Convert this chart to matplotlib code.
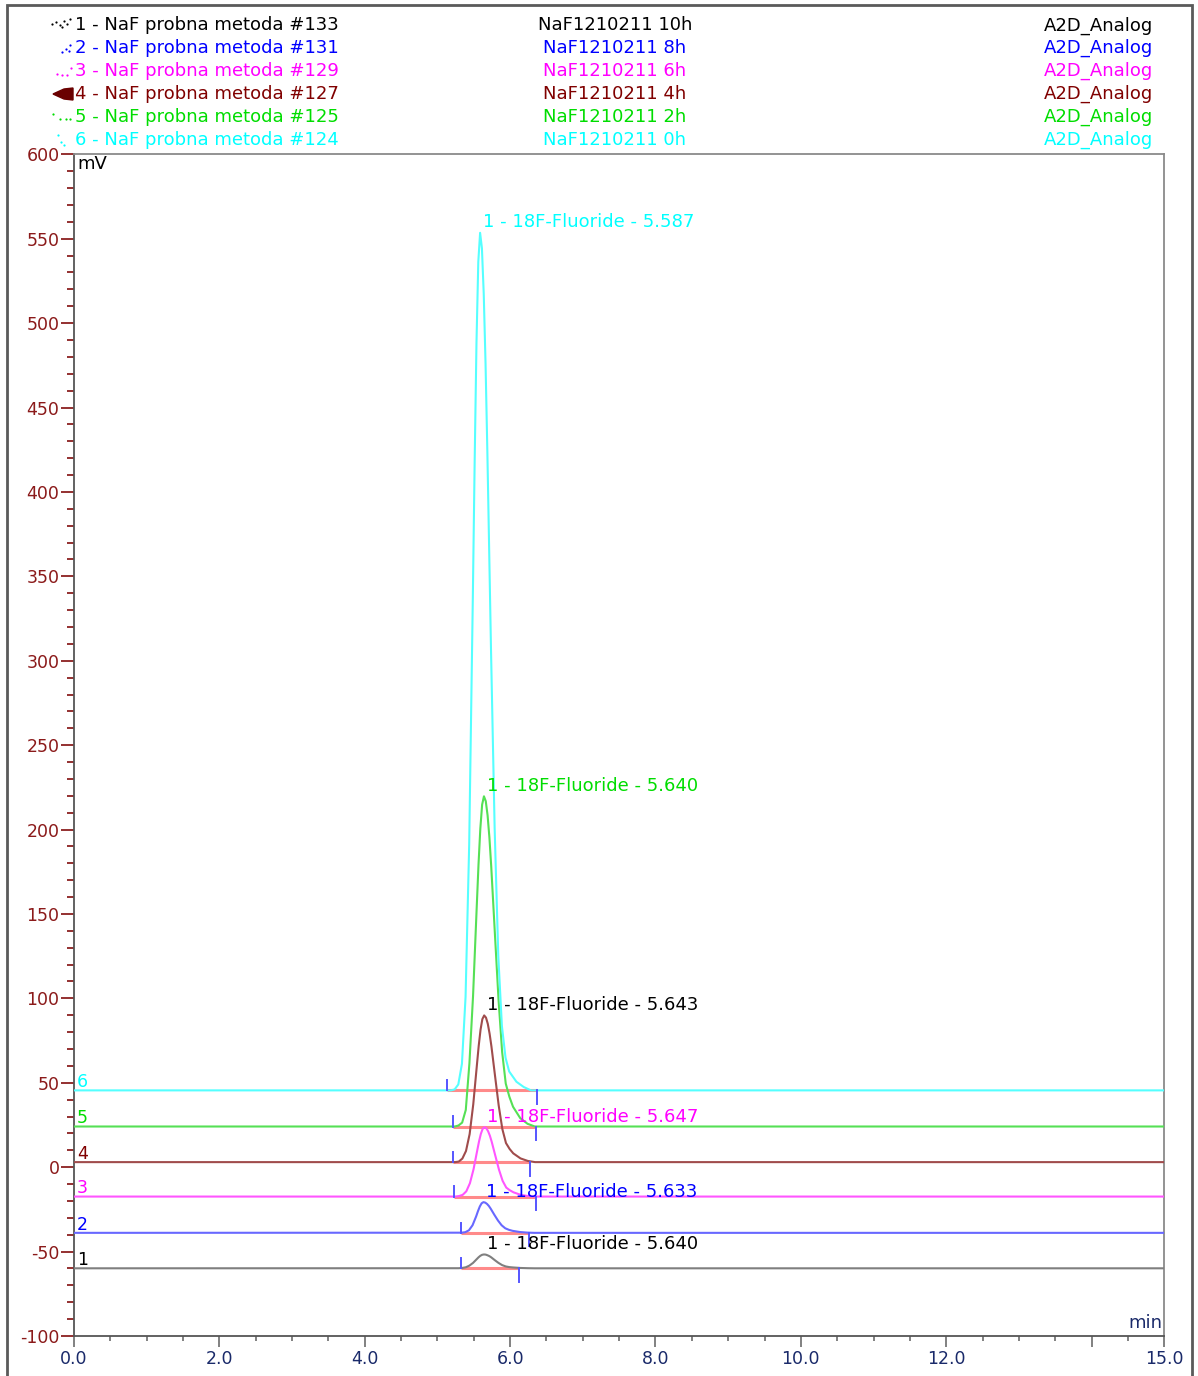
import matplotlib
matplotlib.use("Agg")
import matplotlib.pyplot as plt
from matplotlib.ticker import FixedLocator, FixedFormatter, MultipleLocator
from matplotlib.patches import Rectangle, Polygon

plt.rcParams["font.family"] = ["DejaVu Sans"]
plt.rcParams["axes.unicode_minus"] = False

W, H = 1198, 1376

# ---- run table ----------------------------------------------------------
run_names = ["1 - NaF probna metoda #133", "2 - NaF probna metoda #131",
             "3 - NaF probna metoda #129", "4 - NaF probna metoda #127",
             "5 - NaF probna metoda #125", "6 - NaF probna metoda #124"]
sample_names = ["NaF1210211 10h", "NaF1210211 8h", "NaF1210211 6h",
                "NaF1210211 4h", "NaF1210211 2h", "NaF1210211 0h"]
detectors = ["A2D_Analog"] * 6
run_colors = ["#000000", "#0000ff", "#ff00ff", "#800000", "#00dd00", "#00ffff"]
line_colors = ["#7f7f7f", "#6868ff", "#ff55ff", "#a04c4c", "#55e055", "#55ffff"]
label_colors = ["#000000", "#0000ff", "#ff00ff", "#000000", "#00dd00", "#00ffff"]

# ---- chromatogram traces (time in min, signal in mV) -------------------
t1 = [0.0, 5.290, 5.340, 5.390, 5.440, 5.490, 5.540, 5.565, 5.590, 5.615, 5.640, 5.665,
      5.690, 5.715, 5.740, 5.790, 5.840, 5.890, 5.940, 5.990, 6.040, 6.140, 6.240, 6.340, 15.0]
mv1 = [-59.9, -59.85, -59.7, -59.3, -58.3, -56.7, -54.5, -53.4, -52.5, -51.9, -51.7, -51.8,
       -52.2, -52.7, -53.4, -55.1, -56.7, -58.0, -58.8, -59.2, -59.4, -59.7, -59.83, -59.9, -59.9]

t2 = [0.0, 5.333, 5.383, 5.433, 5.483, 5.533, 5.558, 5.583, 5.608, 5.633, 5.658, 5.683,
      5.708, 5.733, 5.783, 5.833, 5.883, 5.933, 5.983, 6.033, 6.133, 6.233, 6.333, 15.0]
mv2 = [-38.9, -38.8, -38.5, -37.4, -34.4, -29.1, -26.0, -23.3, -21.4, -20.7, -21.0, -21.8,
       -23.0, -24.6, -28.2, -31.6, -34.4, -36.2, -37.1, -37.7, -38.4, -38.75, -38.9, -38.9]

t3 = [0.0, 5.247, 5.297, 5.347, 5.397, 5.447, 5.497, 5.547, 5.572, 5.597, 5.622, 5.647, 5.672,
      5.697, 5.722, 5.747, 5.797, 5.847, 5.897, 5.947, 5.997, 6.047, 6.147, 6.247, 6.347, 15.0]
mv3 = [-17.4, -17.4, -17.1, -16.4, -14.3, -9.5, -1.2, 9.8, 15.2, 19.7, 22.7, 23.7, 23.1,
       21.3, 18.6, 15.0, 6.7, -1.5, -8.1, -12.1, -13.7, -14.9, -16.4, -17.1, -17.4, -17.4]

t4 = [0.0, 5.243, 5.293, 5.343, 5.393, 5.443, 5.493, 5.543, 5.568, 5.593, 5.618, 5.643, 5.668,
      5.693, 5.718, 5.743, 5.793, 5.843, 5.893, 5.943, 5.993, 6.043, 6.143, 6.243, 6.343, 15.0]
mv4 = [3.0, 3.0, 3.3, 5.1, 9.6, 19.6, 37.3, 60.5, 71.9, 81.4, 87.7, 89.9, 88.6,
       84.9, 79.0, 71.5, 53.9, 36.5, 22.6, 14.3, 10.8, 8.2, 5.2, 3.7, 3.0, 3.0]

t5 = [0.0, 5.240, 5.290, 5.340, 5.390, 5.440, 5.490, 5.540, 5.565, 5.590, 5.615, 5.640, 5.665,
      5.690, 5.715, 5.740, 5.790, 5.840, 5.890, 5.940, 5.990, 6.040, 6.140, 6.240, 6.340, 15.0]
mv5 = [24.1, 24.1, 24.7, 26.4, 33.9, 61.5, 101.4, 153.6, 179.2, 200.5, 214.8, 219.7, 216.8,
       208.4, 195.3, 178.2, 138.7, 99.6, 68.3, 49.5, 41.7, 35.8, 29.0, 25.7, 24.1, 24.1]

t6 = [0.0, 5.187, 5.237, 5.287, 5.337, 5.387, 5.437, 5.487, 5.512, 5.537, 5.562, 5.587, 5.612,
      5.637, 5.662, 5.687, 5.737, 5.787, 5.837, 5.887, 5.937, 5.987, 6.087, 6.187, 6.287, 15.0]
mv6 = [45.5, 45.5, 46.1, 49.0, 61.2, 100.9, 191.3, 337.6, 417.4, 488.0, 536.2, 553.5, 544.4,
       517.4, 475.8, 423.5, 306.6, 200.9, 125.3, 83.6, 64.8, 56.7, 50.6, 47.5, 45.5, 45.5]

times = [t1, t2, t3, t4, t5, t6]
signals = [mv1, mv2, mv3, mv4, mv5, mv6]

# peak table: retention time, apex height, baseline level, integration window
peak_name = "18F-Fluoride"
peak_rt = [5.640, 5.633, 5.647, 5.643, 5.640, 5.587]
peak_top = [-51.7, -20.7, 23.7, 89.9, 219.7, 553.5]
baselines = [-59.9, -38.9, -17.4, 3.0, 24.1, 45.5]
peak_start = [5.320, 5.320, 5.228, 5.218, 5.210, 5.135]
peak_end = [6.125, 6.263, 6.355, 6.273, 6.357, 6.365]

x_major = [0.0, 2.0, 4.0, 6.0, 8.0, 10.0, 12.0, 14.0, 15.0]
x_labels = ["0.0", "2.0", "4.0", "6.0", "8.0", "10.0", "12.0", "", "15.0"]

# ---- figure -------------------------------------------------------------
fig = plt.figure(figsize=(W / 100, H / 100), dpi=100)


def fx(px):
    return px / W


def fy(py):
    return 1 - py / H


ax_l, ax_r, ax_t, ax_b = 74, 1164.3, 154.3, 1336
ax = fig.add_axes([fx(ax_l), fy(ax_b), fx(ax_r - ax_l), (ax_b - ax_t) / H])
ax.set_xlim(0, 15)
ax.set_ylim(-100, 600)

for i in range(6):
    ax.plot(times[i], signals[i], color=line_colors[i], lw=1.5, zorder=3)
    # integration baseline and start/end markers
    ax.plot([peak_start[i], peak_end[i]], [baselines[i], baselines[i]],
            color="#ff8a8a", lw=2.2, zorder=2.5, solid_capstyle="butt")
    ax.plot([peak_start[i], peak_start[i]], [baselines[i], baselines[i] + 6.0],
            color="#5555ff", lw=1.4, zorder=4)
    ax.plot([peak_end[i], peak_end[i]], [baselines[i], baselines[i] - 8.0],
            color="#5555ff", lw=1.4, zorder=4)
    # peak annotation
    ax.annotate(f"1 - {peak_name} - {peak_rt[i]:.3f}", xy=(peak_rt[i], peak_top[i]),
                xytext=(2, 7.5), textcoords="offset points", ha="left", va="center",
                fontsize=13, color=label_colors[i], zorder=5)
    # trace number next to the axis
    ax.annotate(str(i + 1), xy=(0, baselines[i]), xytext=(2, 6), textcoords="offset points",
                ha="left", va="center", fontsize=12.5,
                color=label_colors[i] if i != 3 else run_colors[3], zorder=5)

# axis units
ax.text(0.003, 0.999, "mV", transform=ax.transAxes, ha="left", va="top", fontsize=13, color="#000000")
ax.text(0.998, 0.003, "min", transform=ax.transAxes, ha="right", va="bottom", fontsize=13,
        color="#1a2a6a")

# ticks
ax.yaxis.set_major_locator(MultipleLocator(50))
ax.yaxis.set_minor_locator(MultipleLocator(10))
ax.tick_params(axis="y", which="major", direction="out", length=9.5, width=1.3,
               color="#8b2020", labelcolor="#8b1a1a", labelsize=12.5, pad=1)
ax.tick_params(axis="y", which="minor", direction="out", length=4.8, width=1.3, color="#8b2020")
ax.xaxis.set_major_locator(FixedLocator(x_major))
ax.xaxis.set_major_formatter(FixedFormatter(x_labels))
ax.xaxis.set_minor_locator(MultipleLocator(0.5))
ax.tick_params(axis="x", which="major", direction="out", length=8, width=1.3,
               color="#777777", labelcolor="#1a2a6a", labelsize=12.5, pad=2)
ax.tick_params(axis="x", which="minor", direction="out", length=3.5, width=1.3, color="#777777")

for side in ["left", "bottom"]:
    ax.spines[side].set_color("#555555")
    ax.spines[side].set_linewidth(1.3)
for side in ["top", "right"]:
    ax.spines[side].set_color("#8a8a8a")
    ax.spines[side].set_linewidth(1.3)

# ---- run header ---------------------------------------------------------
row_y = [25.5, 48.3, 70.8, 94.2, 116.8, 140.0]
for i in range(6):
    y = fy(row_y[i])
    fig.text(fx(75), y, run_names[i], ha="left", va="center", fontsize=13, color=run_colors[i])
    fig.text(fx(615), y, sample_names[i], ha="center", va="center", fontsize=13, color=run_colors[i])
    fig.text(fx(1044), y, detectors[i], ha="left", va="center", fontsize=13, color=run_colors[i])

# small run icons before each name
icon_dots = [
    [(52, 24), (56, 22), (60, 25), (64, 21), (67, 24), (70, 19), (62, 27)],
    [(62, 52), (66, 49), (70, 45), (69, 51)],
    [(57, 74), (62, 75), (67, 75), (71, 68)],
    [],
    [(53, 114), (60, 119), (66, 119), (70, 119)],
    [(58, 135), (61, 142), (64, 145)],
]
for i, dots in enumerate(icon_dots):
    if dots:
        fig.lines.append(plt.Line2D([fx(d[0]) for d in dots], [fy(d[1]) for d in dots],
                                    transform=fig.transFigure, ls="none", marker="o",
                                    markersize=1.6, markeredgewidth=0, color=run_colors[i]))
fig.patches.append(Polygon([(fx(53), fy(94)), (fx(64), fy(89)), (fx(73), fy(88)),
                            (fx(73), fy(100)), (fx(64), fy(99))],
                           closed=True, transform=fig.transFigure, color="#6a0000"))

# outer frame
fig.patches.append(Rectangle((fx(7), fy(1390)), fx(1192 - 7), (1390 - 5) / H, fill=False,
                             transform=fig.transFigure, lw=2.0, edgecolor="#5a5a5a", clip_on=False))

fig.savefig("out.png", dpi=100)
